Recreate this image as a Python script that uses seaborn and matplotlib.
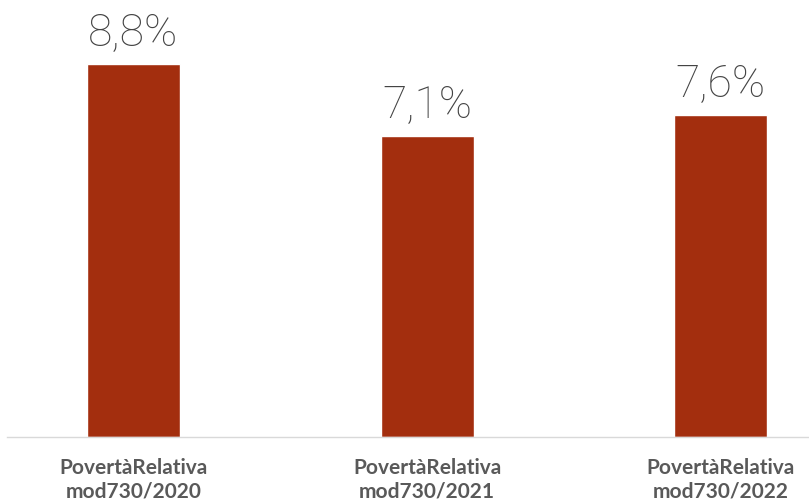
import matplotlib
matplotlib.use('Agg')
import pandas as pd
import seaborn as sns
from matplotlib import pyplot as plt

# dati
categorie = ['PovertàRelativa\nmod730/2020', 'PovertàRelativa\nmod730/2021', 'PovertàRelativa\nmod730/2022']
valori = [8.8, 7.1, 7.6]
etichette = ['8,8%', '7,1%', '7,6%']

df = pd.DataFrame({'categoria': categorie, 'valore': valori})

sns.set_style('white')
plt.rcParams['font.family'] = ['Lato', 'DejaVu Sans']

fig = plt.figure(figsize=(8.09, 5.04), dpi=100)
ax = fig.add_axes([7 / 809, 1 - 437 / 504, 1 - 7 / 809, 437 / 504])

sns.barplot(data=df, x='categoria', y='valore', color='#A32E0E', width=0.316, ax=ax, saturation=1)

for i, (v, t) in enumerate(zip(valori, etichette)):
    ax.annotate(t, (i, v), xytext=(0, 6), textcoords='offset points',
                ha='center', va='bottom', fontsize=32, family=['Roboto', 'Lato'],
                fontweight='light', color='#444444')

ax.set_xlim(-0.43, 2.30)
ax.set_ylim(0, 10.3)
ax.set_yticks([])
ax.set_xlabel('')
ax.set_ylabel('')
for s in ['top', 'right', 'left']:
    ax.spines[s].set_visible(False)
ax.spines['bottom'].set_color('#D9D9D9')
ax.spines['bottom'].set_linewidth(1)
ax.tick_params(axis='x', length=0, pad=15)
for lbl in ax.get_xticklabels():
    lbl.set_fontsize(15)
    lbl.set_fontweight('bold')
    lbl.set_color('#595959')
    lbl.set_linespacing(1.2)

fig.savefig('out.png', dpi=100)
